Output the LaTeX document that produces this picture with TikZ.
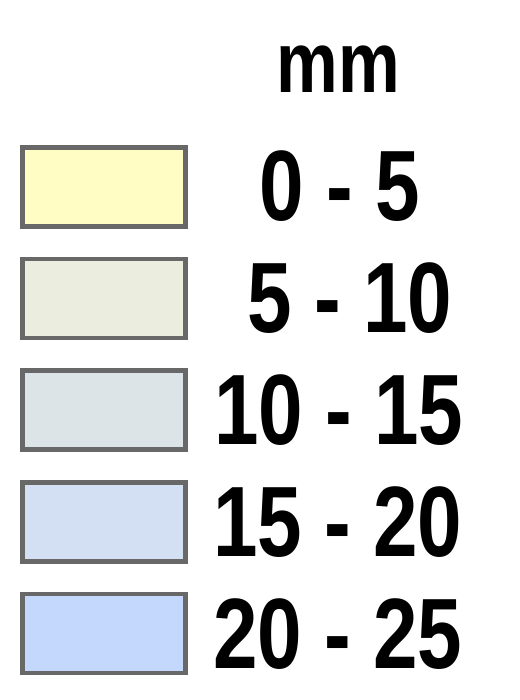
\documentclass[tikz,border=0pt]{standalone}
\usepackage{fontspec}
\setmainfont{Liberation Sans}[FakeStretch=0.8]

\tikzset{every picture/.style={line width=0.75pt}}

\begin{document}
\begin{tikzpicture}[x=0.75pt,y=0.75pt,yscale=-1,xscale=1]
	\useasboundingbox (0,0) rectangle (520,700); %set diagram 520 wide, 700 high

	%Shape: Rectangle [id:0to5]
	\draw  [color={rgb, 255:red, 104; green, 104; blue, 104 }  ,draw opacity=1 ][fill={rgb, 255:red, 255; green, 252; blue, 196 }  ,fill opacity=1 ][line width=3.4]  (22.5,147.5) -- (185.5,147.5) -- (185.5,226.5) -- (22.5,226.5) -- cycle ;
	%Shape: Rectangle [id:5to10]
	\draw  [color={rgb, 255:red, 104; green, 104; blue, 104 }  ,draw opacity=1 ][fill={rgb, 255:red, 235; green, 238; blue, 223 }  ,fill opacity=1 ][line width=3.4]  (22.5,259) -- (185.5,259) -- (185.5,338) -- (22.5,338) -- cycle ;
	%Shape: Rectangle [id:10to15]
	\draw  [color={rgb, 255:red, 104; green, 104; blue, 104 }  ,draw opacity=1 ][fill={rgb, 255:red, 220; green, 228; blue, 232 }  ,fill opacity=1 ][line width=3.4]  (22.5,370.5) -- (185.5,370.5) -- (185.5,449.5) -- (22.5,449.5) -- cycle ;
	%Shape: Rectangle [id:15to20]
	\draw  [color={rgb, 255:red, 104; green, 104; blue, 104 }  ,draw opacity=1 ][fill={rgb, 255:red, 211; green, 224; blue, 243 }  ,fill opacity=1 ][line width=3.4]  (22.5,482.5) -- (185.5,482.5) -- (185.5,561.5) -- (22.5,561.5) -- cycle ;
	%Shape: Rectangle [id:20to25]
	\draw  [color={rgb, 255:red, 104; green, 104; blue, 104 }  ,draw opacity=1 ][fill={rgb, 255:red, 196; green, 215; blue, 253 }  ,fill opacity=1 ][line width=3.4]  (22.5,594) -- (185.5,594) -- (185.5,673) -- (22.5,673) -- cycle ;

	% Text Node
	\draw (338.5,69) node [inner sep=0] (unit)  {\fontsize{65}{65}\selectfont\bfseries mm};
	% Text Node
	\draw (340,186) node [inner sep=0] (lbl0)  {\fontsize{75}{75}\selectfont\bfseries 0 - 5};
	% Text Node
	\draw (350,298) node [inner sep=0] (lbl5)  {\fontsize{75}{75}\selectfont\bfseries 5 - 10};
	% Text Node
	\draw (339,410) node [inner sep=0] (lbl10)  {\fontsize{75}{75}\selectfont\bfseries 10 - 15};
	% Text Node
	\draw (338,522) node [inner sep=0] (lbl15)  {\fontsize{75}{75}\selectfont\bfseries 15 - 20};
	% Text Node
	\draw (338,634) node [inner sep=0] (lbl20)  {\fontsize{75}{75}\selectfont\bfseries 20 - 25};

\end{tikzpicture}
\end{document}
